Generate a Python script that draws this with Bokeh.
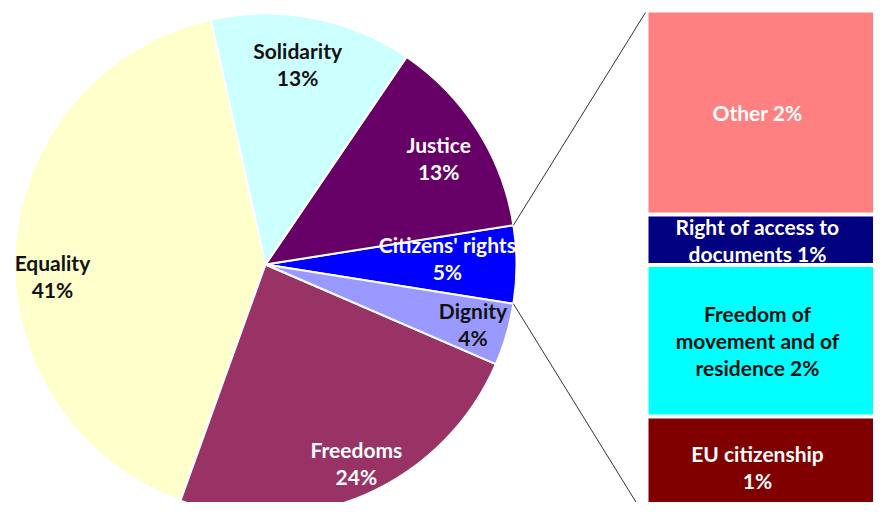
import math
from bokeh.plotting import figure
from bokeh.models import Range1d, ColumnDataSource
from bokeh.core.properties import value
from bokeh.embed import file_html
from bokeh.resources import INLINE

# ---------------- data ----------------
pie_categories = ["Citizens' rights", "Justice", "Solidarity", "Equality", "Freedoms", "Dignity"]
pie_values = [5, 13, 13, 41, 24, 4]
pie_colors = ["#0000FF", "#660066", "#CCFFFF", "#FFFFCC", "#993366", "#9999FF"]
pie_text_colors = ["white", "white", "#111111", "#111111", "white", "#111111"]

bar_categories = ["Other", "Right of access to documents",
                  "Freedom of movement and of residence", "EU citizenship"]
bar_values = [2.0, 0.5, 1.5, 1.0]
bar_pct_labels = ["2%", "1%", "2%", "1%"]
bar_label_lines = [["Other 2%"], ["Right of access to", "documents 1%"],
                   ["Freedom of", "movement and of", "residence 2%"],
                   ["EU citizenship", "1%"]]
bar_colors = ["#FF8080", "#000080", "#00FFFF", "#800000"]
bar_text_colors = ["white", "white", "#111111", "white"]

# ---------------- layout (reference pixel space, y flipped) ----------------
W, HGT = 873, 502
H = 518
def Y(py):
    return H - py

CX, CY, R = 265, Y(264), 251
label_r = [0.725, 0.81, 0.81, 0.85, 0.87, 0.86]
label_nudge = [2.0, -0.8, 1.7, 6.6, 1.2, 0.2]
LS = 27
FONT = "Lato"
FS = "21px"

BAR_LEFT, BAR_RIGHT, BAR_TOP = 648, 900, 12
BAR_SCALE = 101.0
GAP = 4
BAR_TEXT_X = 757

p = figure(width=W, height=HGT, x_range=Range1d(0, W), y_range=Range1d(H - HGT, H),
           x_axis_type=None, y_axis_type=None, toolbar_location=None,
           output_backend="svg", min_border=0)
p.outline_line_color = None
p.background_fill_color = "white"
p.border_fill_color = "white"

# pie wedges
total = sum(pie_values)
start = -pie_values[0] / total * math.pi
starts, ends, mids = [], [], []
a = start
for v in pie_values:
    b = a + v / total * 2 * math.pi
    starts.append(a); ends.append(b); mids.append((a + b) / 2)
    a = b
src = ColumnDataSource(dict(start=starts, end=ends, color=pie_colors, cat=pie_categories))
p.wedge(x=CX, y=CY, radius=R, start_angle="start", end_angle="end", direction="anticlock",
        fill_color="color", line_color="white", line_width=2, source=src)

# connector lines
pt_top = (CX + R * math.cos(ends[0]), CY + R * math.sin(ends[0]))
pt_bot = (CX + R * math.cos(starts[0]), CY + R * math.sin(starts[0]))
bar_total = sum(bar_values)
bar_bottom_px = BAR_TOP + bar_total * BAR_SCALE
p.segment(x0=[pt_top[0], pt_bot[0]], y0=[pt_top[1], pt_bot[1]],
          x1=[BAR_LEFT - 3, BAR_LEFT - 3], y1=[Y(BAR_TOP), Y(bar_bottom_px)],
          line_color="#333333", line_width=1)

# bar segments (stacked from top)
tops, bottoms = [], []
cur = BAR_TOP
for v in bar_values:
    t = cur
    b = cur + v * BAR_SCALE
    tops.append(Y(t + (0 if t == BAR_TOP else GAP / 2)))
    bottoms.append(Y(b - GAP / 2))
    cur = b
bsrc = ColumnDataSource(dict(top=tops, bottom=bottoms, color=bar_colors, cat=bar_categories))
p.quad(left=BAR_LEFT, right=BAR_RIGHT, top="top", bottom="bottom", fill_color="color",
       line_color=None, source=bsrc)

# pie labels
tx, ty, tt, tc = [], [], [], []
for i, cat in enumerate(pie_categories):
    ang = mids[i] + math.radians(label_nudge[i])
    lx = CX + label_r[i] * R * math.cos(ang)
    ly = CY + label_r[i] * R * math.sin(ang)
    lines = [cat, f"{pie_values[i]}%"]
    n = len(lines)
    for j, ln in enumerate(lines):
        tx.append(lx); ty.append(ly + (n - 1) / 2 * LS - j * LS)
        tt.append(ln); tc.append(pie_text_colors[i])

# bar labels
for i, lines in enumerate(bar_label_lines):
    cy = (tops[i] + bottoms[i]) / 2
    n = len(lines)
    for j, ln in enumerate(lines):
        tx.append(BAR_TEXT_X); ty.append(cy + (n - 1) / 2 * LS - j * LS)
        tt.append(ln); tc.append(bar_text_colors[i])

tsrc = ColumnDataSource(dict(x=tx, y=ty, text=tt, color=tc))
p.text(x="x", y="y", text="text", text_color="color", source=tsrc,
       text_font=value(FONT), text_font_style="bold", text_font_size=FS,
       text_align="center", text_baseline="middle")

open("out.html", "w").write(file_html(p, INLINE))
